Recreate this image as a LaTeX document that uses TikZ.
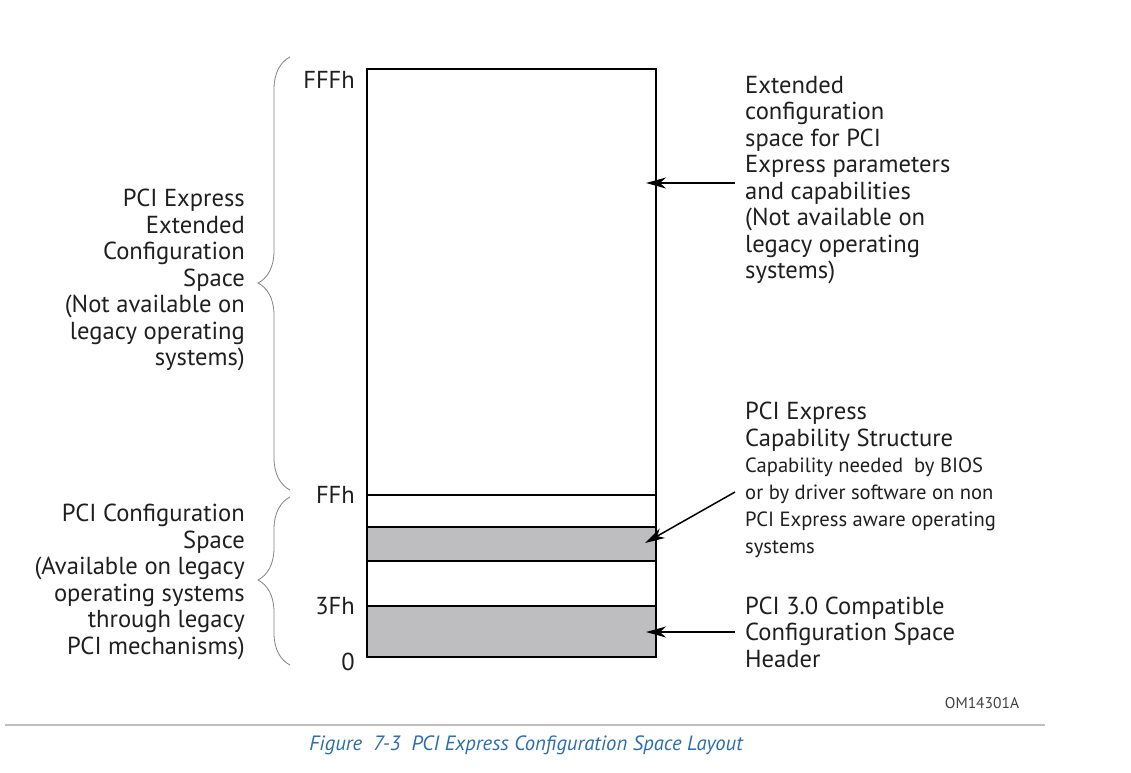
\documentclass[tikz,border=0pt]{standalone}
\usepackage{fontspec}
\setmainfont{PT Sans}
\usepackage{tikz}
\usetikzlibrary{positioning}
\usetikzlibrary{arrows.meta}
\usetikzlibrary{decorations.pathreplacing}
\definecolor{bandgray}{RGB}{190,190,192}
\definecolor{bracegray}{RGB}{130,130,130}
\definecolor{capblue}{RGB}{45,110,175}

\begin{document}
\begin{tikzpicture}
    [
    x=1pt,y=-1pt,
    big/.style={font=\fontsize{24.6}{26.5}\selectfont,inner sep=0pt,text=black!88},
    small/.style={font=\fontsize{20.6}{27}\selectfont,inner sep=0pt,text=black!88},
    offset/.style={font=\fontsize{24.5}{26}\selectfont,inner sep=0pt,anchor=east,text=black!88},
    region/.style={draw,line width=1.8pt},
    pointer/.style={-{Stealth[length=20pt,width=11pt,inset=6pt]},line width=1.5pt},
    curly/.style={decorate,draw=bracegray,line width=0.8pt},
    ]
    \useasboundingbox (0,0) rectangle (1131,772);

    % memory layout
    \fill [bandgray] (367,527) rectangle (656,561);
    \fill [bandgray] (367,606) rectangle (656,657);
    \draw [region] (367,495) -- (656,495);
    \draw [region] (367,527) -- (656,527);
    \draw [region] (367,561) -- (656,561);
    \draw [region] (367,606) -- (656,606);
    \draw [region] (367,69) rectangle (656,657);

    \node (fffh) at (355,80) [offset] {FFFh};
    \node (ffh) at (355,495) [offset] {FFh};
    \node (3fh) at (355,606) [offset] {3Fh};
    \node (zero) at (355,662) [offset] {0};

    % left side
    \coordinate (b1s) at (290,490);
    \coordinate (b1e) at (290,57);
    \coordinate (b2s) at (290,665);
    \coordinate (b2e) at (290,497);
    \draw [curly,decoration={brace,amplitude=32pt,aspect=0.478}] (b1s) -- (b1e);
    \draw [curly,decoration={brace,amplitude=32pt,aspect=0.506}] (b2s) -- (b2e);

    \node (extlbl) at (245,280) [big,anchor=east,align=right]
      {PCI Express\\Extended\\Configuration\\Space\\(Not available on\\legacy operating\\systems)};
    \node (pcilbl) at (245,582) [big,anchor=east,align=right]
      {PCI Configuration\\Space\\(Available on legacy\\operating systems \\through legacy\\PCI mechanisms)};

    % right side
    \node (extdesc) at (745,180) [big,anchor=west,align=left]
      {Extended\\configuration\\space for PCI\\Express parameters\\and capabilities\\(Not available on\\legacy operating\\systems)};
    \node (capname) at (745,427) [big,anchor=west,align=left]
      {PCI Express\\Capability Structure};
    \node (capdesc) at (745,508) [small,anchor=west,align=left]
      {Capability needed\ \ by BIOS\\or by driver software on non\\PCI Express aware operating\\systems};
    \node (hdrdesc) at (745,632) [big,anchor=west,align=left]
      {PCI 3.0 Compatible\\Configuration Space\\Header};

    \coordinate (a1) at (735,183);
    \coordinate (t1) at (646,183);
    \coordinate (a2) at (735,492);
    \coordinate (t2) at (645,543);
    \coordinate (a3) at (735,632);
    \coordinate (t3) at (646,632);
    \draw [pointer] (a1) to (t1);
    \draw [pointer] (a2) to (t2);
    \draw [pointer] (a3) to (t3);

    % footer
    \node (figid) at (982,703) [font=\fontsize{15.5}{17}\selectfont,text=black!75] {OM14301A};
    \coordinate (r1) at (5,725);
    \coordinate (r2) at (1045,725);
    \draw [black!25,line width=1.5pt] (r1) -- (r2);
    \node (caption) at (526,745) [font=\fontsize{20.7}{23}\selectfont\itshape,text=capblue]
      {Figure\ \ 7-3\ \ PCI Express Configuration Space Layout};
  \end{tikzpicture}
\end{document}
